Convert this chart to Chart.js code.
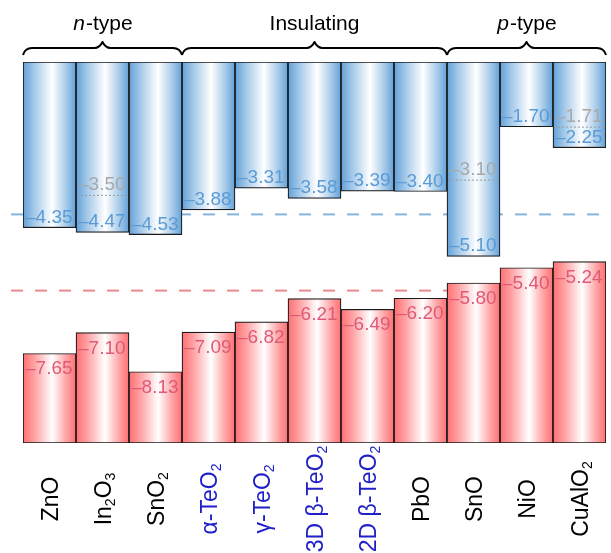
<!DOCTYPE html>
<html>
<head>
<meta charset="utf-8">
<script src="https://cdn.jsdelivr.net/npm/chart.js@4.4.1/dist/chart.umd.min.js"></script>
<style>
  html, body { margin: 0; padding: 0; background: #ffffff; }
  canvas { display: block; }
</style>
</head>
<body>
<canvas id="bandChart" width="611" height="553"></canvas>
<script>
// materials, "_x" marks a subscript character
const materials = ['ZnO', 'In_2O_3', 'SnO_2', 'α-TeO_2', 'γ-TeO_2', '3D β-TeO_2', '2D β-TeO_2', 'PbO', 'SnO', 'NiO', 'CuAlO_2'];
// conduction band minimum (eV vs vacuum)
const cbm = [-4.35, -4.47, -4.53, -3.88, -3.31, -3.58, -3.39, -3.40, -5.10, -1.70, -2.25];
// valence band maximum (eV vs vacuum)
const vbm = [-7.65, -7.10, -8.13, -7.09, -6.82, -6.21, -6.49, -6.20, -5.80, -5.40, -5.24];
// second CBM value shown in grey (dotted)
const altCbm = [null, -3.50, null, null, null, null, null, null, -3.10, null, -1.71];

const groupNames = ['n-type', 'Insulating', 'p-type'];
const groupRanges = [[0, 2], [3, 7], [8, 10]];

const vacuumLevel = 0;
const axisBottom = -10;
const nTypeLimit = -4.0;
const pTypeLimit = -6.0;

const FONT = '"Liberation Sans", Arial, sans-serif';

function barGradient(context, colors) {
    const chart = context.chart;
    const area = chart.chartArea;
    if (!area || context.dataIndex === undefined) return colors[0];
    const cx = chart.scales.x.getPixelForValue(context.dataIndex);
    const half = (area.right - area.left) / materials.length / 2;
    const g = chart.ctx.createLinearGradient(cx - half, 0, cx + half, 0);
    g.addColorStop(0, colors[0]);
    g.addColorStop(0.22, colors[1]);
    g.addColorStop(0.55, '#ffffff');
    g.addColorStop(0.82, colors[1]);
    g.addColorStop(1, colors[0]);
    return g;
}

function fmt(v) {
    return '\u2013' + Math.abs(v).toFixed(2);
}

function splitSub(text) {
    const parts = [];
    for (let i = 0; i < text.length; i++) {
        if (text[i] === '_') {
            parts.push({ t: text[i + 1], sub: true });
            i++;
        } else if (parts.length && !parts[parts.length - 1].sub) {
            parts[parts.length - 1].t += text[i];
        } else {
            parts.push({ t: text[i], sub: false });
        }
    }
    return parts;
}

const bandPlugin = {
    id: 'bandPlugin',
    beforeDatasetsDraw(chart) {
        const { ctx, scales } = chart;
        const y = scales.y;
        ctx.save();
        ctx.lineWidth = 2;
        ctx.setLineDash([12, 12]);
        // n-type limit (blue) and p-type limit (red)
        ctx.strokeStyle = '#86b3d9';
        ctx.beginPath();
        ctx.moveTo(11, y.getPixelForValue(nTypeLimit));
        ctx.lineTo(611, y.getPixelForValue(nTypeLimit));
        ctx.stroke();
        ctx.strokeStyle = '#ec8a92';
        ctx.beginPath();
        ctx.moveTo(11, y.getPixelForValue(pTypeLimit));
        ctx.lineTo(611, y.getPixelForValue(pTypeLimit));
        ctx.stroke();
        ctx.restore();
    },
    afterDatasetsDraw(chart) {
        const { ctx, scales, chartArea } = chart;
        const xs = scales.x, ys = scales.y;
        const half = (chartArea.right - chartArea.left) / materials.length / 2;

        ctx.save();
        ctx.font = '19px ' + FONT;
        ctx.textAlign = 'left';
        ctx.textBaseline = 'alphabetic';

        materials.forEach((m, i) => {
            const left = xs.getPixelForValue(i) - half;
            // grey dotted secondary level
            if (altCbm[i] !== null) {
                const yy = ys.getPixelForValue(altCbm[i]);
                ctx.save();
                ctx.strokeStyle = '#9a9a9a';
                ctx.lineWidth = 1;
                ctx.setLineDash([2, 2]);
                ctx.beginPath();
                ctx.moveTo(left + 1, yy);
                ctx.lineTo(left + 2 * half - 1, yy);
                ctx.stroke();
                ctx.restore();
                ctx.fillStyle = '#a8a8a8';
                ctx.fillText(fmt(altCbm[i]), left + 2, yy - 5);
            }
            // CBM label at bottom of the blue bar
            ctx.fillStyle = '#5b9bd5';
            ctx.fillText(fmt(cbm[i]), left + 2, ys.getPixelForValue(cbm[i]) - 5);
            // VBM label below top of the red bar
            ctx.fillStyle = '#df5a78';
            ctx.fillText(fmt(vbm[i]), left + 2, ys.getPixelForValue(vbm[i]) + 21);
        });

        // rotated material names
        const size = 23, subSize = 14;
        materials.forEach((m, i) => {
            const parts = splitSub(m);
            let total = 0;
            parts.forEach(p => {
                ctx.font = (p.sub ? subSize : size) + 'px ' + FONT;
                p.w = ctx.measureText(p.t).width;
                total += p.w;
            });
            ctx.save();
            ctx.translate(xs.getPixelForValue(i) + 8, 499);
            ctx.rotate(-Math.PI / 2);
            ctx.fillStyle = m.includes('TeO') ? '#2020c8' : '#000000';
            let x = -total / 2;
            parts.forEach(p => {
                ctx.font = (p.sub ? subSize : size) + 'px ' + FONT;
                ctx.fillText(p.t, x, p.sub ? 4 : 0);
                x += p.w;
            });
            ctx.restore();
        });

        // braces and group names
        ctx.strokeStyle = '#000000';
        ctx.lineWidth = 2;
        ctx.lineJoin = 'round';
        const yl = 48;
        groupRanges.forEach((r, gi) => {
            const x1 = xs.getPixelForValue(r[0]) - half;
            const x2 = xs.getPixelForValue(r[1]) + half;
            const mid = (x1 + x2) / 2;
            ctx.beginPath();
            ctx.moveTo(x1, yl + 7);
            ctx.quadraticCurveTo(x1 + 2, yl, x1 + 9, yl);
            ctx.lineTo(mid - 8, yl);
            ctx.quadraticCurveTo(mid - 3, yl, mid, yl - 6);
            ctx.quadraticCurveTo(mid + 3, yl, mid + 8, yl);
            ctx.lineTo(x2 - 9, yl);
            ctx.quadraticCurveTo(x2 - 2, yl, x2, yl + 7);
            ctx.stroke();

            // name, with italic first letter for n-/p-type
            const name = groupNames[gi];
            ctx.fillStyle = '#000000';
            ctx.textBaseline = 'middle';
            if (name.includes('-')) {
                const head = name.slice(0, 1), rest = name.slice(1);
                ctx.font = 'italic 21px ' + FONT;
                const w1 = ctx.measureText(head).width;
                ctx.font = '21px ' + FONT;
                const w2 = ctx.measureText(rest).width;
                const sx = mid - (w1 + w2) / 2;
                ctx.font = 'italic 21px ' + FONT;
                ctx.fillText(head, sx, 24);
                ctx.font = '21px ' + FONT;
                ctx.fillText(rest, sx + w1 + 1, 24);
            } else {
                ctx.font = '21px ' + FONT;
                ctx.textAlign = 'center';
                ctx.fillText(name, mid, 24);
                ctx.textAlign = 'left';
            }
        });
        ctx.restore();
    }
};

new Chart(document.getElementById('bandChart'), {
    type: 'bar',
    data: {
        labels: materials,
        datasets: [{
            label: 'CBM',
            data: cbm.map(v => [vacuumLevel, v]),
            backgroundColor: c => barGradient(c, ['#62a0d8', '#a6cae9']),
            borderColor: '#1a1a1a',
            borderWidth: 1.2,
            borderSkipped: false
        }, {
            label: 'VBM',
            data: vbm.map(v => [axisBottom, v]),
            backgroundColor: c => barGradient(c, ['#ff6f72', '#ffa3a5']),
            borderColor: '#1a1a1a',
            borderWidth: 1.2,
            borderSkipped: false
        }]
    },
    options: {
        responsive: false,
        animation: false,
        devicePixelRatio: 1,
        categoryPercentage: 1,
        barPercentage: 1,
        layout: { padding: { left: 23, right: 5, top: 62, bottom: 110 } },
        plugins: { legend: { display: false }, tooltip: { enabled: false } },
        scales: {
            x: { stacked: true, display: false },
            y: { min: axisBottom, max: vacuumLevel, display: false }
        }
    },
    plugins: [bandPlugin]
});
</script>
</body>
</html>
